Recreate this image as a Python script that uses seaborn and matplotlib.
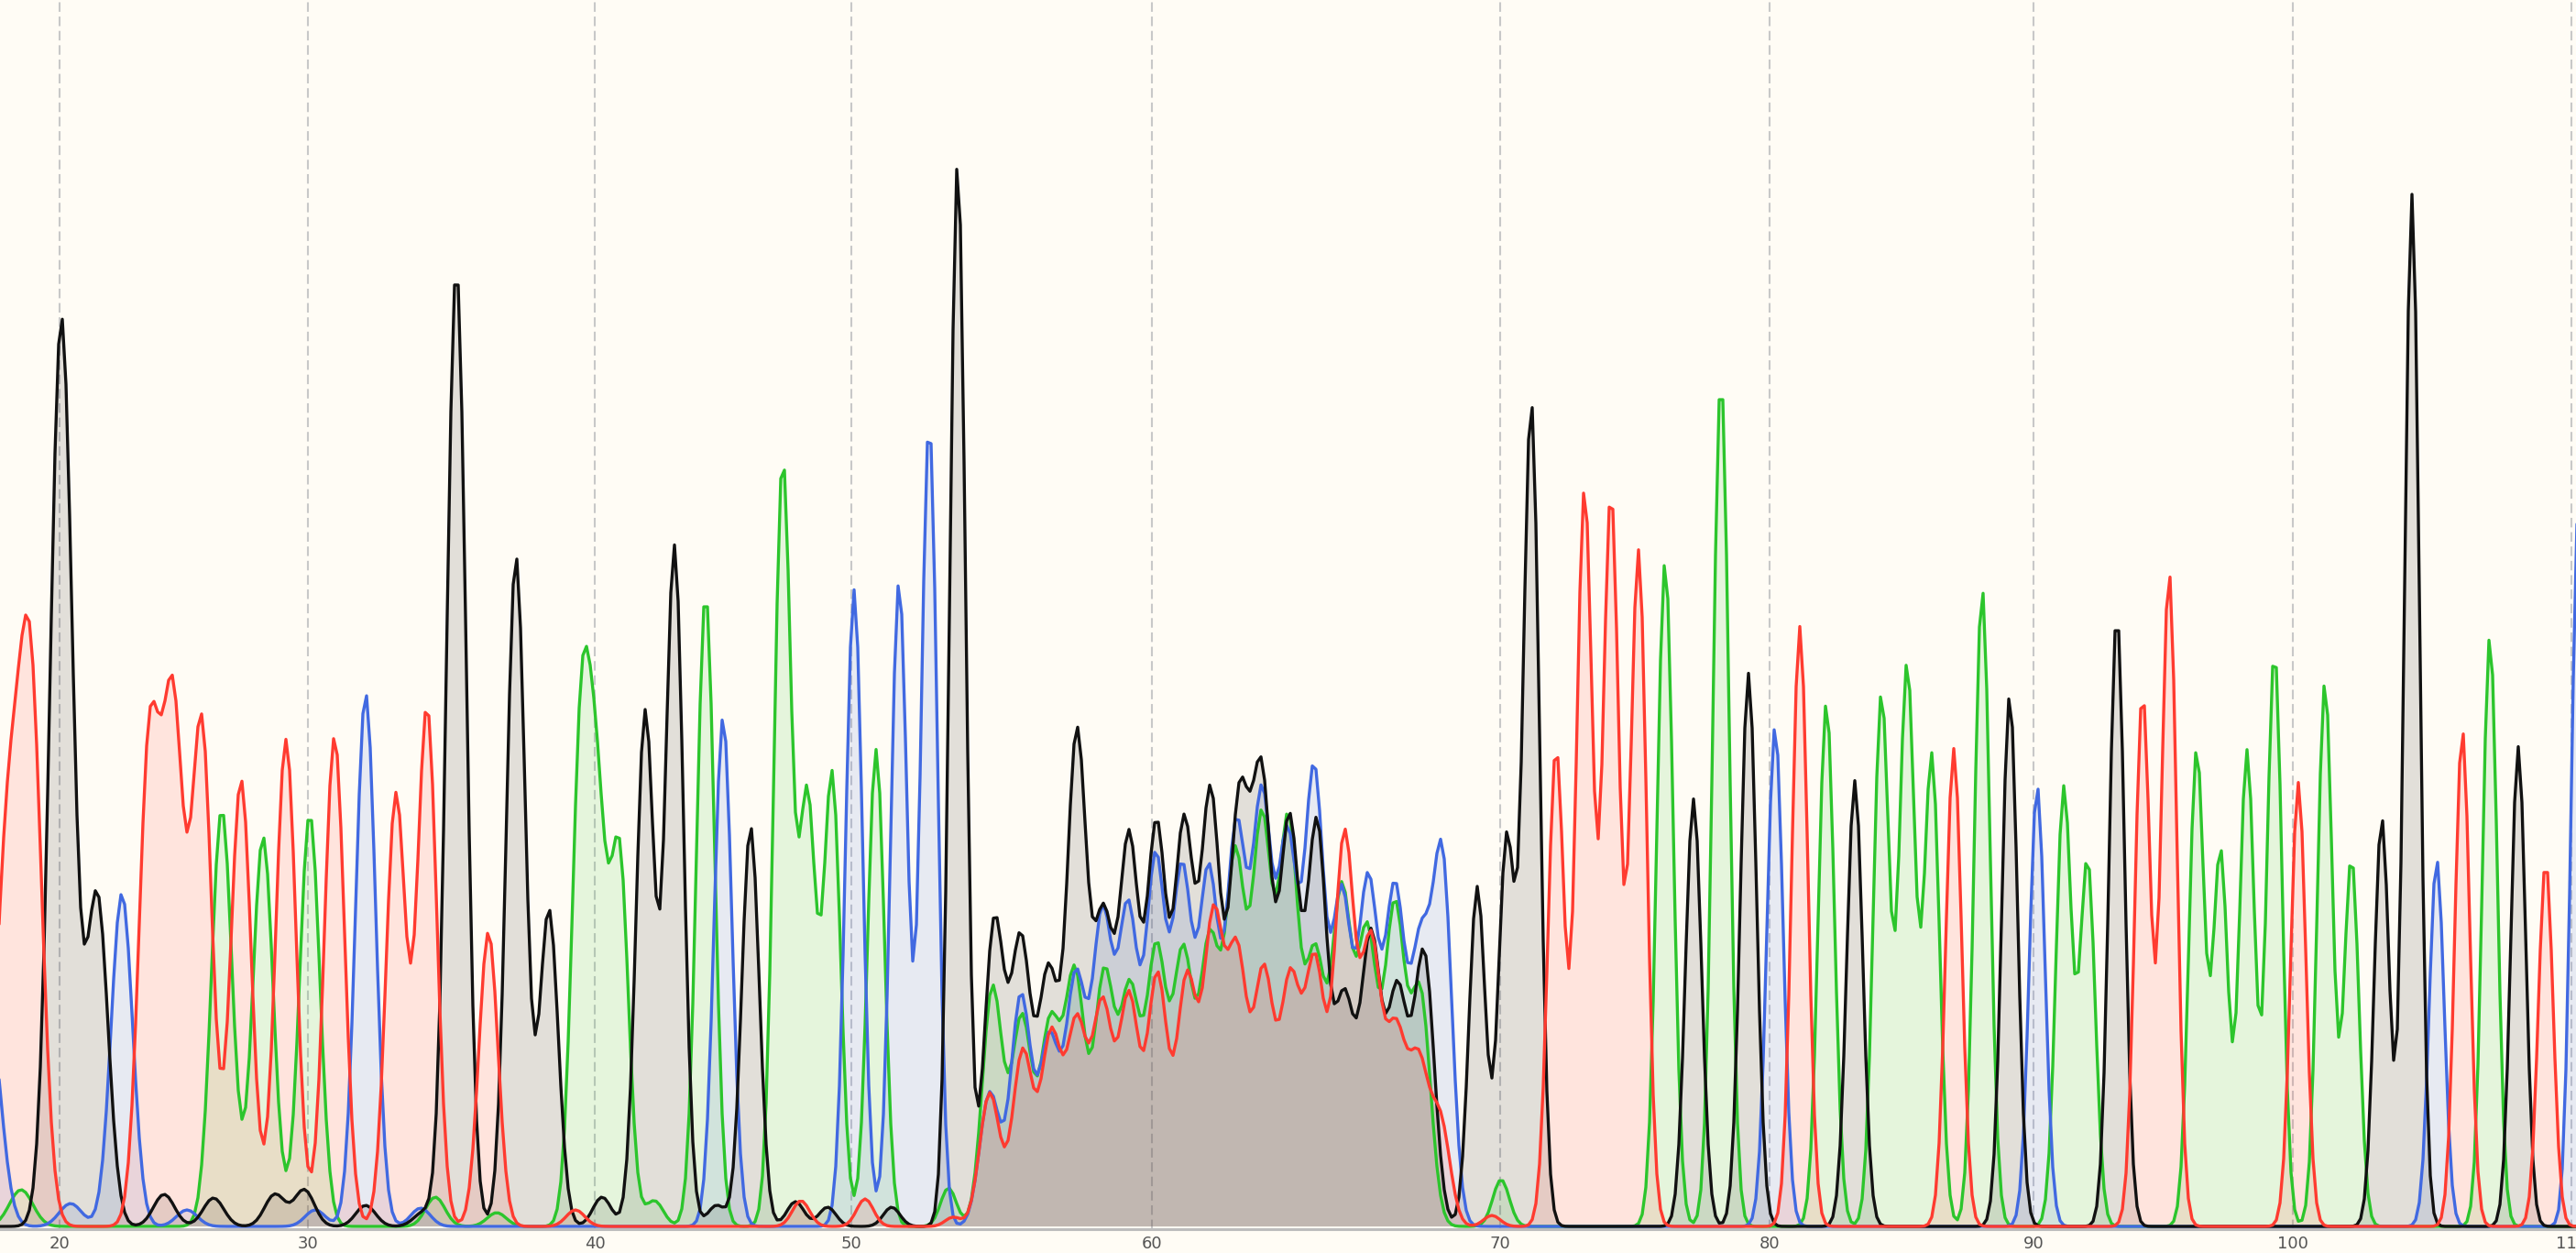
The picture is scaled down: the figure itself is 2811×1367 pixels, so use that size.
import numpy as np
import pandas as pd
import matplotlib
matplotlib.use('Agg')
import matplotlib.pyplot as plt
import seaborn as sns

# peak positions (scan units) and peak heights for each base
a_pos = [23, 242, 287, 338, 475, 542, 634, 652, 676, 714, 770, 854, 881, 908, 956, 1035,
         1083, 1115, 1146, 1173, 1205, 1233, 1262, 1291, 1320, 1348, 1377, 1406, 1435, 1464,
         1492, 1522, 1550, 1638, 1817, 1878, 1993, 2053, 2081, 2108, 2163, 2252, 2278, 2397,
         2423, 2452, 2482, 2537, 2566, 2717]
a_height = [40, 455, 425, 450, 32, 15, 520, 400, 400, 28, 690, 830, 460, 490, 520, 42,
            260, 225, 215, 270, 270, 250, 295, 290, 300, 390, 430, 430, 285, 355,
            310, 340, 250, 51, 725, 925, 571, 579, 609, 512, 695, 477, 398, 518,
            408, 518, 627, 593, 402, 644]

c_pos = [-12, 77, 133, 204, 344, 399, 459, 789, 932, 981, 1014, 1080, 1114, 1145, 1174,
         1203, 1231, 1261, 1290, 1319, 1349, 1377, 1405, 1434, 1464, 1493, 1522, 1550, 1574,
         1937, 2223, 2659, 2814]
c_height = [230, 25, 363, 18, 18, 581, 20, 555, 694, 702, 875, 145, 250, 200, 265,
            330, 335, 390, 375, 375, 420, 450, 405, 485, 350, 365, 355, 290, 390,
            545, 480, 400, 790]

g_pos = [67, 106, 179, 233, 300, 332, 399, 462, 498, 563, 599, 657, 704, 736, 782, 819,
         868, 903, 973, 1045, 1085, 1114, 1144, 1175, 1204, 1232, 1262, 1292, 1321, 1352,
         1377, 1407, 1437, 1467, 1496, 1525, 1554, 1612, 1644, 1671, 1848, 1908, 2024, 2193,
         2310, 2599, 2632, 2748]
g_height = [990, 360, 35, 31, 35, 40, 23, 15, 1045, 730, 345, 32, 560, 740, 23, 436,
            27, 21, 21, 1160, 330, 305, 270, 530, 320, 410, 425, 425, 460, 440,
            465, 430, 430, 240, 310, 250, 295, 370, 420, 895, 466, 603, 486, 579,
            668, 445, 1125, 523]

t_pos = [8, 33, 163, 189, 220, 263, 312, 365, 432, 466, 533, 628, 874, 944, 1040, 1080,
         1116, 1147, 1175, 1203, 1232, 1263, 1295, 1324, 1350, 1379, 1408, 1435, 1467, 1496,
         1523, 1548, 1572, 1628, 1698, 1729, 1758, 1788, 1964, 2132, 2338, 2367, 2508, 2687,
         2778]
t_height = [400, 590, 520, 545, 545, 487, 531, 534, 470, 565, 321, 18, 28, 30, 10, 145,
            190, 205, 215, 235, 245, 270, 265, 325, 285, 270, 260, 280, 420, 300,
            200, 170, 110, 12, 520, 800, 795, 735, 654, 521, 580, 712, 484, 541,
            398]

tick_pos = [65, 336, 649, 929, 1257, 1637, 1931, 2219, 2502, 2806]
tick_labels = ['20', '30', '40', '50', '60', '70', '80', '90', '100', '110']

colors = {'A': '#2cc52c', 'C': '#4169e1', 'G': '#111111', 'T': '#ff3b30'}
bg = '#fffcf5'


def peak_width(p):
    # peaks are broad at the start of the read and get sharper later on
    return np.interp(p, [0, 150, 500, 1000, 1050, 1075, 1560, 1610, 2811],
                     [13, 11.5, 10.5, 9, 8.5, 11, 11, 9, 8])


def trace(pos, height, scan):
    y = np.zeros_like(scan)
    for p, h in zip(pos, height):
        s = peak_width(p)
        y += h * np.exp(-(scan - p) ** 2 / (2 * s ** 2))
    return y


scan = np.arange(-40, 2860, 4.0)
peaks = {'A': (a_pos, a_height), 'C': (c_pos, c_height),
         'G': (g_pos, g_height), 'T': (t_pos, t_height)}
frames = []
for base, (pos, height) in peaks.items():
    frames.append(pd.DataFrame({'scan': scan, 'signal': trace(pos, height, scan), 'base': base}))
df = pd.concat(frames, ignore_index=True)

sns.set_style('white')
fig = plt.figure(figsize=(28.11, 13.67), dpi=100, facecolor=bg)
ax = fig.add_axes([0, 0.019, 1, 0.981])
ax.set_facecolor(bg)

for x in tick_pos:
    ax.axvline(x, color='#c8c8c8', lw=1.5, ls=(0, (5, 2.5)), zorder=0)

for base in ['A', 'C', 'G', 'T']:
    grp = df[df['base'] == base]
    ax.fill_between(grp['scan'], 0, grp['signal'], color=colors[base], alpha=0.12, lw=0, zorder=1)

sns.lineplot(data=df, x='scan', y='signal', hue='base', hue_order=['A', 'C', 'G', 'T'],
             palette=colors, estimator=None, sort=False, lw=2.4, legend=False, ax=ax, zorder=2)

ax.set_xlim(0, 2811)
ax.set_ylim(-3, 1337)
for side in ['top', 'left', 'right']:
    ax.spines[side].set_visible(False)
ax.spines['bottom'].set_color('#bdbdbd')
ax.spines['bottom'].set_linewidth(2.2)
ax.set_xticks(tick_pos, tick_labels)
ax.set_yticks([])
ax.tick_params(axis='x', length=0, pad=5, labelsize=13, labelcolor='#555555')
ax.set_xlabel('')
ax.set_ylabel('')

fig.savefig('out.png', dpi=100, facecolor=bg)
